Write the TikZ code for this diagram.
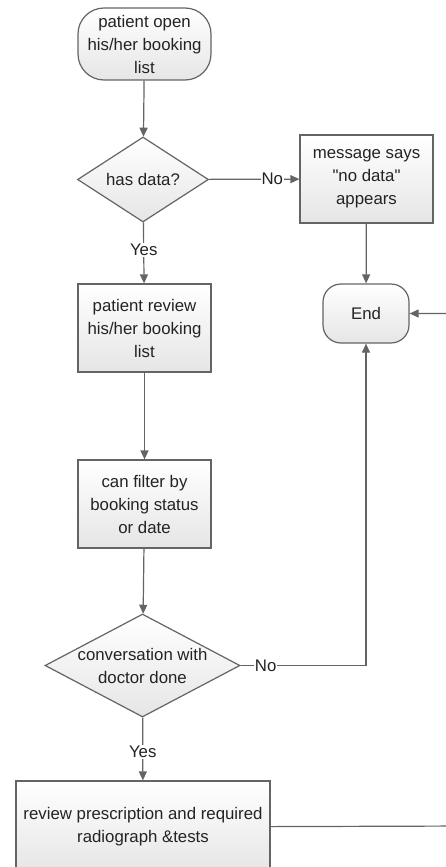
\documentclass[tikz,border=0pt]{standalone}
\usepackage{fontspec}
\newfontfamily\chartfont{Liberation Sans}
\usetikzlibrary{shapes.geometric,arrows.meta}
\definecolor{edge}{HTML}{646464}
\definecolor{ink}{HTML}{232323}
\tikzset{
  every node/.style={font=\chartfont\fontsize{16.8}{23}\selectfont, text=ink, align=center},
  box/.style={draw=edge, line width=1.2pt, top color=white, bottom color=black!10,
    inner sep=0pt},
  process/.style={box, rectangle},
  terminal/.style={box, rectangle},
  decision/.style={box, diamond},
  flow/.style={draw=edge, line width=1.2pt, -{Triangle[length=9pt,width=8pt]}},
  tag/.style={fill=white, inner sep=1pt}
}
\begin{document}
\begin{tikzpicture}[x=1pt,y=-1pt]
  \fill[white] (0,0) rectangle (446,867);
  \useasboundingbox (0,0) rectangle (446,867);
  \clip (0,0) rectangle (446,867);

  % shapes
  \node[terminal, minimum width=133, minimum height=72, rounded corners=26] (start) at (144.5,44)
    {patient open\\his/her booking\\list};
  \node[decision, minimum width=131, minimum height=85] (d1) at (143,179.5) {};
  \node at (d1) {has data?};
  \node[process, minimum width=133, minimum height=88] (msg) at (366.5,179)
    {message says\\"no data"\\appears};
  \node[terminal, minimum width=86, minimum height=59, rounded corners=18] (end) at (366,313.5) {End};
  \node[process, minimum width=133, minimum height=88] (review) at (144.5,328)
    {patient review\\his/her booking\\list};
  \node[process, minimum width=133, minimum height=88] (filter) at (144.5,504)
    {can filter by\\booking status\\or date};
  \node[decision, minimum width=195, minimum height=103] (d2) at (142.5,665.5) {};
  \node at (d2) {conversation with\\doctor done};
  \node[process, minimum width=254, minimum height=92] (presc) at (143,827)
    {review prescription and required\\radiograph \&tests};
  \coordinate (loop) at (470,826);

  % connectors
  \draw[flow] (start) -- (d1);
  \draw[flow] (d1) -- node[tag, pos=0.70] {No} (msg);
  \draw[flow] (d1) -- node[tag, pos=0.45] {Yes} (review);
  \draw[flow] (msg) -- (end);
  \draw[flow] (review) -- (filter);
  \draw[flow] (filter) -- (d2);
  \draw[flow] (d2) -- node[tag, pos=0.2] {No} (end |- d2) -- (end);
  \draw[flow] (d2) -- node[tag, pos=0.55] {Yes} (presc);
  \draw[flow] (presc) -- (loop) |- (end);
\end{tikzpicture}
\end{document}
